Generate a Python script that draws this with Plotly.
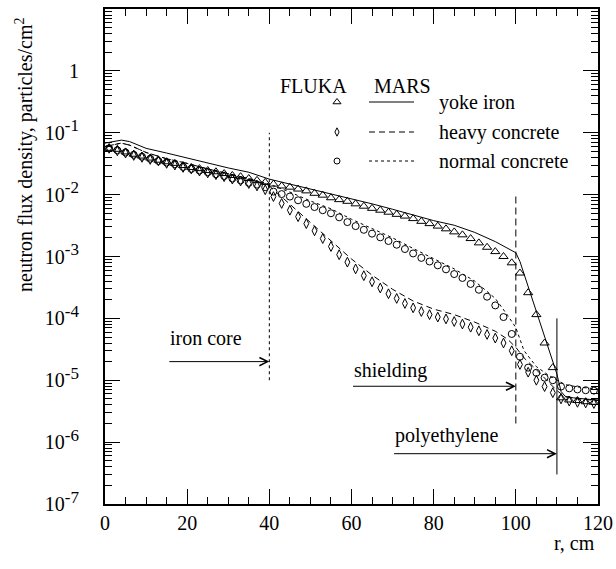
import plotly.graph_objects as go
import math

# ---------------- data ----------------
r_fluka = [1, 3, 5, 7, 9, 11, 13, 15, 17, 19, 21, 23, 25, 27, 29, 31, 33, 35, 37, 39,
           41, 43, 45, 47, 49, 51, 53, 55, 57, 59, 61, 63, 65, 67, 69, 71, 73, 75, 77, 79,
           81, 83, 85, 87, 89, 91, 93, 95, 97, 99, 101, 103, 105, 107, 109, 111, 113, 115, 117, 119]

fluka_yoke_iron = [5.6e-2, 5.4e-2, 4.9e-2, 4.5e-2, 4.2e-2, 3.9e-2, 3.6e-2, 3.4e-2, 3.2e-2, 2.95e-2,
                   2.75e-2, 2.63e-2, 2.45e-2, 2.34e-2, 2.19e-2, 2.04e-2, 1.95e-2, 1.82e-2, 1.70e-2, 1.58e-2,
                   1.48e-2, 1.38e-2, 1.32e-2, 1.23e-2, 1.15e-2, 1.05e-2, 9.8e-3, 8.9e-3, 8.3e-3, 7.8e-3,
                   7.1e-3, 6.5e-3, 6.0e-3, 5.6e-3, 5.2e-3, 4.8e-3, 4.5e-3, 4.1e-3, 3.7e-3, 3.4e-3,
                   3.1e-3, 2.8e-3, 2.5e-3, 2.24e-3, 1.95e-3, 1.66e-3, 1.41e-3, 1.20e-3, 1.0e-3, 7.9e-4,
                   5.4e-4, 2.6e-4, 1.15e-4, 4.0e-5, 1.6e-5, 5.2e-6, 4.8e-6, 4.7e-6, 4.5e-6, 4.4e-6]

fluka_heavy_concrete = [5.6e-2, 5.1e-2, 4.7e-2, 4.3e-2, 4.0e-2, 3.7e-2, 3.5e-2, 3.2e-2, 3.0e-2, 2.75e-2,
                        2.6e-2, 2.4e-2, 2.24e-2, 2.1e-2, 1.95e-2, 1.78e-2, 1.66e-2, 1.51e-2, 1.38e-2, 1.20e-2,
                        9.3e-3, 7.2e-3, 5.6e-3, 4.4e-3, 3.4e-3, 2.6e-3, 1.95e-3, 1.45e-3, 1.07e-3, 8.1e-4,
                        6.3e-4, 4.9e-4, 3.9e-4, 3.1e-4, 2.5e-4, 2.1e-4, 1.74e-4, 1.48e-4, 1.29e-4, 1.15e-4,
                        1.05e-4, 9.8e-5, 8.9e-5, 8.1e-5, 7.2e-5, 6.3e-5, 5.5e-5, 4.8e-5, 4.0e-5, 3.0e-5,
                        1.8e-5, 1.35e-5, 1.0e-5, 7.9e-6, 6.3e-6, 5.0e-6, 4.6e-6, 4.4e-6, 4.3e-6, 4.2e-6]

fluka_normal_concrete = [5.6e-2, 5.2e-2, 4.8e-2, 4.4e-2, 4.1e-2, 3.8e-2, 3.5e-2, 3.3e-2, 3.1e-2, 2.8e-2,
                         2.6e-2, 2.45e-2, 2.3e-2, 2.14e-2, 2.0e-2, 1.82e-2, 1.70e-2, 1.55e-2, 1.45e-2, 1.32e-2,
                         1.12e-2, 1.02e-2, 9.3e-3, 8.1e-3, 7.1e-3, 6.3e-3, 5.6e-3, 5.0e-3, 4.3e-3, 3.6e-3,
                         3.1e-3, 2.7e-3, 2.34e-3, 2.04e-3, 1.78e-3, 1.55e-3, 1.32e-3, 1.12e-3, 9.5e-4, 8.3e-4,
                         7.2e-4, 6.2e-4, 5.2e-4, 4.5e-4, 3.6e-4, 2.9e-4, 2.24e-4, 1.62e-4, 1.05e-4, 5.6e-5,
                         2.4e-5, 1.6e-5, 1.32e-5, 1.1e-5, 1.0e-5, 7.9e-6, 7.4e-6, 7.1e-6, 6.9e-6, 6.8e-6]

r_mars_yoke = [0, 2, 4, 6, 8, 10, 15, 20, 25, 30, 35, 40, 45, 50, 55, 60, 65, 70, 75, 80,
               85, 90, 95, 98, 100, 101, 102, 104, 106, 108, 110, 111, 112, 114, 116, 118, 120]
mars_yoke_iron = [6.8e-2, 7.1e-2, 7.6e-2, 7.2e-2, 6.3e-2, 5.6e-2, 4.7e-2, 3.9e-2, 3.2e-2, 2.7e-2,
                  2.3e-2, 1.78e-2, 1.48e-2, 1.23e-2, 1.05e-2, 8.7e-3, 7.1e-3, 5.8e-3, 4.7e-3, 3.8e-3,
                  3.2e-3, 2.45e-3, 1.74e-3, 1.38e-3, 1.15e-3, 8.3e-4, 5.2e-4, 2.1e-4, 8.3e-5, 3.3e-5,
                  1.26e-5, 6.6e-6, 5.5e-6, 5.2e-6, 5.0e-6, 4.9e-6, 4.8e-6]

r_mars_heavy = [0, 2, 4, 6, 8, 10, 15, 20, 25, 30, 35, 40, 42, 45, 50, 55, 60, 65, 70, 75,
                80, 85, 90, 95, 98, 100, 102, 105, 108, 110, 112, 115, 120]
mars_heavy_concrete = [6.0e-2, 6.3e-2, 6.8e-2, 6.3e-2, 5.5e-2, 4.8e-2, 3.8e-2, 3.2e-2, 2.6e-2, 2.2e-2,
                       1.82e-2, 1.38e-2, 1.05e-2, 6.9e-3, 3.6e-3, 1.82e-3, 9.1e-4, 5.0e-4, 2.95e-4, 1.91e-4,
                       1.41e-4, 1.15e-4, 8.7e-5, 6.2e-5, 4.6e-5, 3.4e-5, 2.3e-5, 1.48e-5, 9.5e-6, 6.8e-6,
                       5.4e-6, 5.0e-6, 4.7e-6]

r_mars_normal = [0, 2, 4, 6, 8, 10, 15, 20, 25, 30, 35, 40, 45, 50, 55, 60, 65, 70, 75, 80,
                 85, 90, 95, 98, 100, 102, 105, 108, 110, 112, 115, 120]
mars_normal_concrete = [6.0e-2, 6.3e-2, 6.8e-2, 6.3e-2, 5.5e-2, 4.8e-2, 3.8e-2, 3.2e-2, 2.6e-2, 2.2e-2,
                        1.82e-2, 1.48e-2, 1.10e-2, 7.9e-3, 5.9e-3, 4.0e-3, 2.8e-3, 2.0e-3, 1.35e-3, 9.3e-4,
                        6.3e-4, 4.0e-4, 2.1e-4, 1.12e-4, 7.1e-5, 3.0e-5, 1.66e-5, 1.20e-5, 1.0e-5, 8.5e-6,
                        7.8e-6, 7.2e-6]

# region boundaries and labels
region_labels = ["iron core", "shielding", "polyethylene"]
region_arrow_start = [15.3, 60, 70]          # r, cm
region_arrow_end = [40, 100, 110]            # r, cm
region_arrow_level = [2e-5, 8e-6, 6.5e-7]    # flux level of each arrow
region_text_level = [4.8e-5, 1.45e-5, 1.3e-6]
boundary_r = [40, 100, 110]
boundary_low = [1e-5, 2e-6, 3e-7]
boundary_high = [1e-1, 1e-2, 1e-4]
boundary_dash = ["dot", "7px,4px", "solid"]

x_ticks = [0, 20, 40, 60, 80, 100, 120]
y_tick_vals = [1e-7, 1e-6, 1e-5, 1e-4, 1e-3, 1e-2, 1e-1, 1, 10]
y_tick_exps = ["-7", "-6", "-5", "-4", "-3", "-2", "-1"]
y_tick_text = ['10<sup><span style="font-size:17px">%s</span></sup>' % e for e in y_tick_exps] + ["1", ""]

FONT = "Liberation Serif, Times New Roman, serif"

# plot-area geometry (pixels) used for placing decorative text
L, R, T, B = 105, 598, 9, 504


def px(xp):
    return (xp - L) / (R - L)


def py(yp):
    return (B - yp) / (B - T)


fig = go.Figure()

# MARS lines
for rr, vv, dash in [(r_mars_yoke, mars_yoke_iron, "solid"),
                     (r_mars_heavy, mars_heavy_concrete, "6px,4px"),
                     (r_mars_normal, mars_normal_concrete, "dot")]:
    fig.add_trace(go.Scatter(x=rr, y=vv, mode="lines", showlegend=False,
                             line=dict(color="black", width=1, dash=dash)))

# FLUKA markers
for vv, sym, size in [(fluka_yoke_iron, "triangle-up-open", 8),
                      (fluka_heavy_concrete, "diamond-tall-open", 7),
                      (fluka_normal_concrete, "circle-open", 7)]:
    fig.add_trace(go.Scatter(x=r_fluka, y=vv, mode="markers", showlegend=False,
                             marker=dict(symbol=sym, size=size, color="black",
                                         line=dict(color="black", width=1))))

# region boundaries
for rb, lo, hi, dash in zip(boundary_r, boundary_low, boundary_high, boundary_dash):
    fig.add_trace(go.Scatter(x=[rb, rb], y=[lo, hi], mode="lines", showlegend=False,
                             line=dict(color="black", width=1, dash=dash)))

# arrows and labels
for lab, x0, x1, ya, yt in zip(region_labels, region_arrow_start, region_arrow_end,
                               region_arrow_level, region_text_level):
    fig.add_annotation(x=x1, y=math.log10(ya), xref="x", yref="y",
                       ax=x0, axref="x", ay=0, ayref="pixel",
                       showarrow=True, arrowhead=5, arrowsize=1.6, arrowwidth=1,
                       arrowcolor="black", text="", standoff=0, startstandoff=0)
    fig.add_annotation(x=x0, y=math.log10(yt), xref="x", yref="y", text=lab,
                       showarrow=False, xanchor="left", yanchor="middle",
                       font=dict(family=FONT, size=20, color="black"))

# ---------------- legend (pixel-mapped overlay axes) ----------------
leg_rows_y = [102, 132, 161]
leg_syms = [("triangle-up-open", 7), ("diamond-tall-open", 6), ("circle-open", 6)]
leg_dash = ["solid", "6px,4px", "dot"]
leg_text = ["yoke iron", "heavy concrete", "normal concrete"]
for yy, (sym, sz), dsh, txt in zip(leg_rows_y, leg_syms, leg_dash, leg_text):
    fig.add_trace(go.Scatter(x=[337], y=[yy], xaxis="x2", yaxis="y2", mode="markers",
                             showlegend=False,
                             marker=dict(symbol=sym, size=sz, color="black",
                                         line=dict(color="black", width=1))))
    fig.add_trace(go.Scatter(x=[369, 414], y=[yy, yy], xaxis="x2", yaxis="y2", mode="lines",
                             showlegend=False, line=dict(color="black", width=1, dash=dsh)))
    fig.add_annotation(x=px(437), y=py(yy), xref="paper", yref="paper", text=txt,
                       showarrow=False, xanchor="left", yanchor="middle",
                       font=dict(family=FONT, size=20, color="black"))

fig.add_annotation(x=px(313), y=py(73), xref="paper", yref="paper", text="FLUKA",
                   showarrow=False, font=dict(family=FONT, size=20, color="black"))
fig.add_annotation(x=px(402), y=py(73), xref="paper", yref="paper", text="MARS",
                   showarrow=False, font=dict(family=FONT, size=20, color="black"))

# axis titles
fig.add_annotation(x=px(24), y=py(155), xref="paper", yref="paper", textangle=-90,
                   showarrow=False, xanchor="center", yanchor="middle",
                   text="neutron flux density, particles/cm<sup>2</sup>",
                   font=dict(family=FONT, size=20, color="black"))
fig.add_annotation(x=px(597), y=py(543), xref="paper", yref="paper", xanchor="right",
                   yanchor="middle", showarrow=False,
                   text="r, cm", font=dict(family=FONT, size=20, color="black"))

minor_y = [k * 10.0 ** n for n in range(-7, 1) for k in range(2, 10)]

fig.update_layout(
    width=616, height=569,
    margin=dict(l=L, r=616 - R, t=T, b=569 - B),
    plot_bgcolor="white", paper_bgcolor="white",
    font=dict(family=FONT, size=20, color="black"),
    showlegend=False,
    xaxis=dict(range=[0, 120], tickmode="array", tickvals=x_ticks, automargin=False,
               showline=True, linecolor="black", linewidth=2, mirror="allticks",
               ticks="inside", ticklen=15, tickwidth=1, tickcolor="black",
               showgrid=False, zeroline=False, ticklabelstandoff=0,
               tickfont=dict(family=FONT, size=20, color="black"),
               minor=dict(ticks="inside", ticklen=7, tickwidth=1, tickcolor="black",
                          tick0=0, dtick=5, showgrid=False)),
    yaxis=dict(type="log", range=[-7, 1], tickmode="array", tickvals=y_tick_vals,
               ticktext=y_tick_text, automargin=False,
               showline=True, linecolor="black", linewidth=2, mirror="allticks",
               ticks="inside", ticklen=15, tickwidth=1, tickcolor="black",
               showgrid=False, zeroline=False, ticklabelstandoff=20,
               tickfont=dict(family=FONT, size=20, color="black"),
               minor=dict(ticks="inside", ticklen=7, tickwidth=1, tickcolor="black",
                          tickmode="array", tickvals=minor_y, showgrid=False)),
    xaxis2=dict(overlaying="x", range=[L, R], visible=False, anchor="y2"),
    yaxis2=dict(overlaying="y", range=[B, T], visible=False, anchor="x2"),
)

fig.write_html("out.html",
               config={"displayModeBar": False, "staticPlot": True},
               post_script="document.body.style.margin='0';document.body.style.padding='0';")
